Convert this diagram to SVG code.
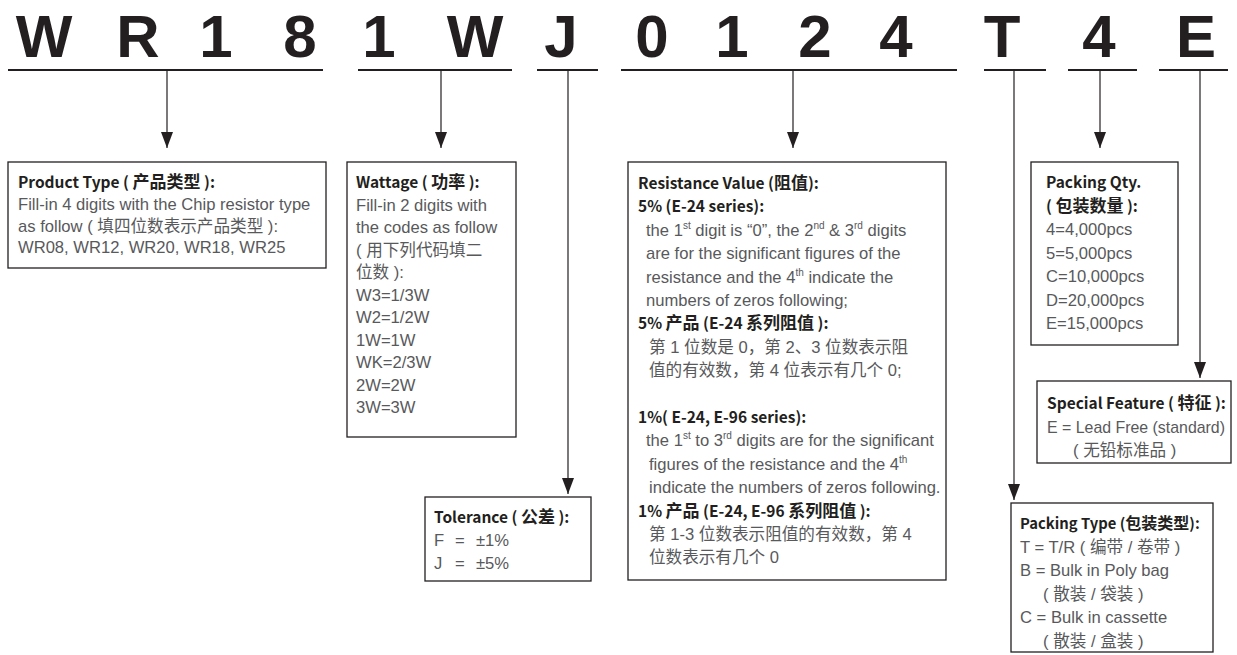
<svg xmlns="http://www.w3.org/2000/svg" width="1237" height="655" viewBox="0 0 1237 655">
<defs>
<marker id="ah" viewBox="0 0 16 12" refX="16" refY="6" markerWidth="16" markerHeight="12" markerUnits="userSpaceOnUse" orient="auto">
<path d="M0,0 L16,6 L0,12 z" fill="#231f20"/>
</marker>
<style>
.big{font-family:"Liberation Sans",Arial,sans-serif;font-weight:bold;font-size:60px;fill:#231f20;text-anchor:middle}
.ul{stroke:#231f20;stroke-width:1.8;fill:none}
.con{stroke:#231f20;stroke-width:1.2;fill:none;marker-end:url(#ah)}
.box{fill:#fff;stroke:#231f20;stroke-width:1.3}
.t{font-family:"Noto Sans CJK SC","Liberation Sans",sans-serif;font-size:15.5px;font-weight:bold;fill:#231f20}
.cj{font-size:17px}
.tn{font-size:14.8px}
.tn .cj{font-size:16px}
.b{font-family:"Liberation Sans","Noto Sans CJK SC",sans-serif;font-size:16.6px;fill:#58595b}
.sup{font-size:10px}
</style>
</defs>

<g id="code">
<text class="big" x="44" y="57">W</text>
<text class="big" x="138" y="57">R</text>
<text class="big" x="216" y="57">1</text>
<text class="big" x="300" y="57">8</text>
<text class="big" x="379" y="57">1</text>
<text class="big" x="475" y="57">W</text>
<text class="big" x="561" y="57">J</text>
<text class="big" x="652" y="57">0</text>
<text class="big" x="732" y="57">1</text>
<text class="big" x="815" y="57">2</text>
<text class="big" x="896" y="57">4</text>
<text class="big" x="1002" y="57">T</text>
<text class="big" x="1099" y="57">4</text>
<text class="big" x="1196" y="57">E</text>
<path class="ul" d="M8,70H323 M358,70H512 M537,70H598 M621,70H957 M984,70H1046 M1068,70H1137 M1159,70H1228"/>
</g>

<g id="connectors">
<line class="con" x1="167" y1="70" x2="167" y2="148"/>
<line class="con" x1="441" y1="70" x2="441" y2="148"/>
<line class="con" x1="568" y1="70" x2="568" y2="494"/>
<line class="con" x1="793" y1="70" x2="793" y2="148"/>
<line class="con" x1="1014" y1="70" x2="1014" y2="500"/>
<line class="con" x1="1100" y1="70" x2="1100" y2="148"/>
<line class="con" x1="1200" y1="70" x2="1200" y2="378"/>
</g>

<g id="product-type">
<rect class="box" x="8" y="162" width="318" height="106"/>
<text class="t" x="18" y="188">Product Type ( <tspan class="cj">产品类型</tspan> ):</text>
<text class="b" x="18" y="209.8">Fill-in 4 digits with the Chip resistor type</text>
<text class="b" x="18" y="231.6">as follow ( 填四位数表示产品类型 ):</text>
<text class="b" x="18" y="253.4">WR08, WR12, WR20, WR18, WR25</text>
</g>

<g id="wattage">
<rect class="box" x="347" y="162" width="169" height="275"/>
<text class="t" x="356" y="188">Wattage ( <tspan class="cj">功率</tspan> ):</text>
<text class="b" x="356" y="210.5">Fill-in 2 digits with</text>
<text class="b" x="356" y="233">the codes as follow</text>
<text class="b" x="356" y="255.5">( 用下列代码填二</text>
<text class="b" x="356" y="278">位数 ):</text>
<text class="b" x="356" y="300.5">W3=1/3W</text>
<text class="b" x="356" y="323">W2=1/2W</text>
<text class="b" x="356" y="345.5">1W=1W</text>
<text class="b" x="356" y="368">WK=2/3W</text>
<text class="b" x="356" y="390.5">2W=2W</text>
<text class="b" x="356" y="413">3W=3W</text>
</g>

<g id="tolerance">
<rect class="box" x="425" y="497" width="166" height="84"/>
<text class="t" x="434" y="523">Tolerance ( <tspan class="cj">公差</tspan> ):</text>
<text class="b" x="434" y="546">F</text>
<text class="b" x="455" y="546">=</text>
<text class="b" x="476" y="546">±1%</text>
<text class="b" x="434" y="569">J</text>
<text class="b" x="455" y="569">=</text>
<text class="b" x="476" y="569">±5%</text>
</g>

<g id="resistance-value">
<rect class="box" x="628" y="162" width="318" height="418"/>
<text class="t" x="638" y="189">Resistance Value (<tspan class="cj">阻值</tspan>):</text>
<text class="t" x="638" y="212.4">5% (E-24 series):</text>
<text class="b" x="646" y="235.8">the 1<tspan class="sup" dy="-7">st</tspan><tspan dy="7"> digit is “0”, the 2</tspan><tspan class="sup" dy="-7">nd</tspan><tspan dy="7"> &amp; 3</tspan><tspan class="sup" dy="-7">rd</tspan><tspan dy="7"> digits</tspan></text>
<text class="b" x="646" y="259.2">are for the significant figures of the</text>
<text class="b" x="646" y="282.6">resistance and the 4<tspan class="sup" dy="-7">th</tspan><tspan dy="7"> indicate the</tspan></text>
<text class="b" x="646" y="306">numbers of zeros following;</text>
<text class="t" x="638" y="329.4">5% <tspan class="cj">产品</tspan> (E-24 <tspan class="cj">系列阻值</tspan> ):</text>
<text class="b" x="649" y="352.8">第 1 位数是 0，第 2、3 位数表示阻</text>
<text class="b" x="649" y="376.2">值的有效数，第 4 位表示有几个 0;</text>
<text class="t" x="638" y="423">1%( E-24, E-96 series):</text>
<text class="b" x="646" y="446.4">the 1<tspan class="sup" dy="-7">st</tspan><tspan dy="7"> to 3</tspan><tspan class="sup" dy="-7">rd</tspan><tspan dy="7"> digits are for the significant</tspan></text>
<text class="b" x="649" y="469.8">figures of the resistance and the 4<tspan class="sup" dy="-7">th</tspan></text>
<text class="b" x="649" y="493.2">indicate the numbers of zeros following.</text>
<text class="t" x="638" y="516.6">1% <tspan class="cj">产品</tspan> (E-24, E-96 <tspan class="cj">系列阻值</tspan> ):</text>
<text class="b" x="649" y="540">第 1-3 位数表示阻值的有效数，第 4</text>
<text class="b" x="649" y="563.4">位数表示有几个 0</text>
</g>

<g id="packing-qty">
<rect class="box" x="1031" y="162" width="147" height="183"/>
<text class="t" x="1046" y="188">Packing Qty.</text>
<text class="t" x="1046" y="211.5">( <tspan class="cj">包装数量</tspan> ):</text>
<text class="b" x="1046" y="235">4=4,000pcs</text>
<text class="b" x="1046" y="258.5">5=5,000pcs</text>
<text class="b" x="1046" y="282">C=10,000pcs</text>
<text class="b" x="1046" y="305.5">D=20,000pcs</text>
<text class="b" x="1046" y="329">E=15,000pcs</text>
</g>

<g id="special-feature">
<rect class="box" x="1037" y="381" width="194" height="82"/>
<text class="t" x="1047" y="409">Special Feature ( <tspan class="cj">特征</tspan> ):</text>
<text class="b" x="1047" y="433" textLength="178" lengthAdjust="spacingAndGlyphs">E = Lead Free (standard)</text>
<text class="b" x="1073" y="456">( 无铅标准品 )</text>
</g>

<g id="packing-type">
<rect class="box" x="1011" y="503" width="202" height="149"/>
<text class="t tn" x="1020" y="529">Packing Type (<tspan class="cj">包装类型</tspan>):</text>
<text class="b" x="1020" y="552.5">T = T/R ( 编带 / 卷带 )</text>
<text class="b" x="1020" y="576">B = Bulk in Poly bag</text>
<text class="b" x="1043" y="599.5">( 散装 / 袋装 )</text>
<text class="b" x="1020" y="623">C = Bulk in cassette</text>
<text class="b" x="1043" y="646.5">( 散装 / 盒装 )</text>
</g>
</svg>
